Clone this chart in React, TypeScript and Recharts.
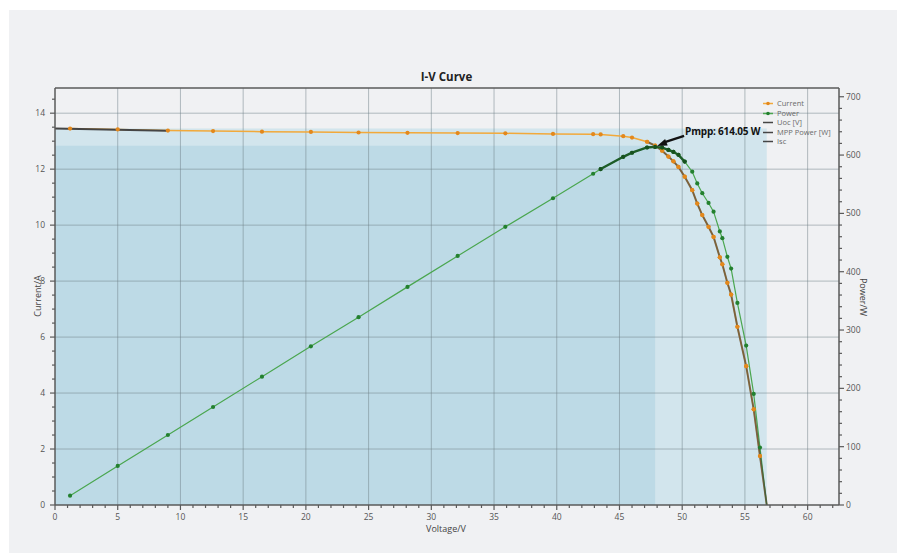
import React from 'react';
import {
  ComposedChart,
  Line,
  XAxis,
  YAxis,
  CartesianGrid,
  ReferenceArea,
  ReferenceLine,
  ReferenceDot,
} from 'recharts';

// measured points of the I-V sweep (voltage in V, current in A, power in W)
const voltage = [1.2, 5.0, 9.0, 12.6, 16.5, 20.4, 24.2, 28.1, 32.1, 35.9, 39.7, 42.9, 43.5, 45.3, 46.0, 47.2, 47.84, 48.4, 48.9, 49.3, 49.7, 50.2, 50.8, 51.2, 51.6, 52.1, 52.5, 53.0, 53.2, 53.6, 53.9, 54.4, 55.1, 55.7, 56.2, 56.74];
const current = [13.45, 13.42, 13.38, 13.36, 13.34, 13.33, 13.31, 13.3, 13.29, 13.28, 13.26, 13.25, 13.24, 13.18, 13.13, 12.98, 12.84, 12.66, 12.45, 12.28, 12.08, 11.73, 11.25, 10.77, 10.36, 9.94, 9.58, 8.85, 8.6, 7.94, 7.52, 6.37, 4.96, 3.42, 1.75, 0];
const power = [16, 67, 120, 168, 220, 272, 322, 374, 427, 477, 526, 568, 576, 597, 604, 613, 614.05, 612.7, 608.8, 605.4, 600.4, 588.8, 571.5, 551.4, 534.6, 517.9, 503, 469, 457.5, 425.6, 405.3, 346.5, 273.3, 190.5, 98.4, 0];

// short-circuit tangent near 0 V
const iscVoltage = [0, 8.9];
const iscCurrent = [13.45, 13.37];

// key values
const VOC = 56.74;
const ISC = 13.45;
const VMPP = 47.84;
const IMPP = 12.84;
const PMPP = 614.05;

const xMajor = [0, 5, 10, 15, 20, 25, 30, 35, 40, 45, 50, 55, 60];
const leftMajor = [0, 2, 4, 6, 8, 10, 12, 14];
const legendNames = ['Current', 'Power', 'Uoc [V]', 'MPP Power [W]', 'Isc'];

const xTicks = Array.from({ length: 63 }, (_, k) => k);
const leftTicks = Array.from({ length: 30 }, (_, k) => k * 0.5);
const rightTicks = Array.from({ length: 36 }, (_, k) => k * 20);

const FONT = '"Open Sans", "Noto Sans", sans-serif';
const AXIS = '#5a5a5a';
const ORANGE = '#f2a93b';
const ORANGE_DOT = '#e3881c';
const GREEN = '#4aa64f';
const GREEN_DOT = '#23802f';
const DARK = '#454545';

const rows = voltage.map((v, k) => ({ v, i: current[k], p: power[k] }));
const iscRows = iscVoltage.map((v, k) => ({ v, i: iscCurrent[k] }));
const uocRows = rows.filter((r) => r.v >= 47.2);
const mppRows = rows.filter((r) => r.v >= 43.5 && r.v <= 50.2);

const makeDot = (fill: string) => (props: any) => {
  const { cx, cy, index, payload } = props;
  if (cx == null || cy == null || payload.v === VOC) return <g key={`d-${index}`} />;
  return <circle key={`d-${index}`} cx={cx} cy={cy} r={2.1} fill={fill} />;
};

const XTick = ({ x, y, payload }: any) => {
  const major = payload.value % 5 === 0;
  return (
    <g>
      <line x1={x} x2={x} y1={y} y2={y + (major ? 5 : 3)} stroke={AXIS} strokeWidth={1.2} />
      {major && (
        <text x={x} y={y + 15} textAnchor="middle" fontSize={8.5} fill="#555" fontFamily={FONT}>
          {payload.value}
        </text>
      )}
    </g>
  );
};

const LeftTick = ({ x, y, payload }: any) => {
  const major = payload.value % 2 === 0;
  return (
    <g>
      <line x1={x} x2={x - (major ? 5 : 3)} y1={y} y2={y} stroke={AXIS} strokeWidth={1.2} />
      {major && (
        <text x={x - 10} y={y + 3} textAnchor="end" fontSize={8.5} fill="#555" fontFamily={FONT}>
          {payload.value}
        </text>
      )}
    </g>
  );
};

const RightTick = ({ x, y, payload }: any) => {
  const major = payload.value % 100 === 0;
  return (
    <g>
      <line x1={x} x2={x + (major ? 5 : 3)} y1={y} y2={y} stroke={AXIS} strokeWidth={1.2} />
      {major && (
        <text x={x + 7} y={y + 3} textAnchor="start" fontSize={8.5} fill="#555" fontFamily={FONT}>
          {payload.value}
        </text>
      )}
    </g>
  );
};

// arrow + label pointing at the maximum power point
const MppMarker = (props: any) => {
  const { cx, cy } = props;
  return (
    <g>
      <line x1={cx + 9} y1={cy - 4.5} x2={cx + 29} y2={cy - 11} stroke="#111" strokeWidth={2.2} />
      <polygon points={`${cx + 2},${cy - 1} ${cx + 12.6},${cy - 1.3} ${cx + 10},${cy - 7.9}`} fill="#111" />
      <text x={cx + 30} y={cy - 11.5} fontSize={10} fontWeight="bold" fill="#111" fontFamily={FONT} letterSpacing={-0.2}>
        {`Pmpp: ${PMPP} W`}
      </text>
    </g>
  );
};

const LegendBox = () => {
  const colors = [ORANGE, GREEN, DARK, DARK, DARK];
  const dots = [ORANGE_DOT, GREEN_DOT, null, null, null];
  return (
    <div style={{ position: 'absolute', left: 762, top: 99, fontFamily: FONT, fontSize: 7.5, color: '#6a6a6a', lineHeight: '9.5px' }}>
      {legendNames.map((name, k) => (
        <div key={name} style={{ display: 'flex', alignItems: 'center', height: 9.5 }}>
          <svg width={12} height={9} style={{ marginRight: 3 }}>
            <line x1={1} x2={11} y1={4.5} y2={4.5} stroke={colors[k]} strokeWidth={1.5} />
            {dots[k] && <circle cx={6} cy={4.5} r={1.8} fill={dots[k] as string} />}
          </svg>
          <span>{name}</span>
        </div>
      ))}
    </div>
  );
};

export default function App() {
  return (
    <div style={{ position: 'fixed', left: 0, top: 0, width: 901, height: 555, background: '#fff', overflow: 'hidden' }}>
      <div style={{ position: 'absolute', left: 9, top: 10, width: 888, height: 543, background: '#f0f1f3' }} />
      <div style={{ position: 'absolute', left: 0, top: 0 }}>
        <ComposedChart width={901} height={555} margin={{ top: 88, right: 12, bottom: 20, left: 9 }}>
          <ReferenceArea x1={0} x2={VOC} y1={0} y2={ISC} fill="#c4dfea" fillOpacity={0.7} stroke="none" zIndex={-160} />
          <ReferenceArea x1={0} x2={VMPP} y1={0} y2={IMPP} fill="#a8d0e0" fillOpacity={0.5} stroke="none" zIndex={-150} />
          <CartesianGrid
            stroke="#6f7f88"
            strokeOpacity={0.5}
            verticalValues={xMajor.slice(1)}
            horizontalValues={leftMajor.slice(1)}
          />
          <XAxis
            type="number"
            dataKey="v"
            domain={[0, 62.5]}
            allowDataOverflow
            ticks={xTicks}
            interval={0}
            tickSize={0}
            tickMargin={0}
            tickLine={false}
            tick={(p: any) => <XTick {...p} />}
            axisLine={{ stroke: AXIS, strokeWidth: 1.5 }}
            height={30}
          />
          <YAxis
            type="number"
            domain={[0, 14.9]}
            allowDataOverflow
            ticks={leftTicks}
            interval={0}
            tickSize={0}
            tickMargin={0}
            tickLine={false}
            tick={(p: any) => <LeftTick {...p} />}
            axisLine={{ stroke: AXIS, strokeWidth: 1.5 }}
            width={46}
          />
          <YAxis
            yAxisId="right"
            orientation="right"
            type="number"
            domain={[0, 715]}
            allowDataOverflow
            ticks={rightTicks}
            interval={0}
            tickSize={0}
            tickMargin={0}
            tickLine={false}
            tick={(p: any) => <RightTick {...p} />}
            axisLine={{ stroke: AXIS, strokeWidth: 1.5 }}
            width={50}
          />
          <ReferenceLine y={14.9} stroke={AXIS} strokeWidth={1.5} />

          <Line data={rows} dataKey="i" type="linear" stroke={ORANGE} strokeWidth={1.5} dot={makeDot(ORANGE_DOT)} activeDot={false} isAnimationActive={false} />
          <Line data={rows} dataKey="p" yAxisId="right" type="linear" stroke={GREEN} strokeWidth={1.2} dot={makeDot(GREEN_DOT)} activeDot={false} isAnimationActive={false} />
          <Line data={uocRows} dataKey="i" type="linear" stroke="#3f3a36" strokeOpacity={0.65} strokeWidth={2} dot={makeDot(ORANGE_DOT)} activeDot={false} isAnimationActive={false} />
          <Line data={mppRows} dataKey="p" yAxisId="right" type="linear" stroke="#1d5c27" strokeWidth={2.4} dot={makeDot('#17501f')} activeDot={false} isAnimationActive={false} />
          <Line data={iscRows} dataKey="i" type="linear" stroke={DARK} strokeWidth={2} dot={false} activeDot={false} isAnimationActive={false} />

          <ReferenceDot x={VMPP} y={PMPP} yAxisId="right" r={0} shape={(p: any) => <MppMarker {...p} />} />
        </ComposedChart>
      </div>

      <div style={{ position: 'absolute', left: 0, width: 901, top: 69, textAlign: 'center', fontFamily: FONT, fontSize: 11.5, fontWeight: 'bold', color: '#222' }}>
        <span style={{ position: 'relative', left: -4 }}>I-V Curve</span>
      </div>
      <div style={{ position: 'absolute', left: 37, top: 296, transform: 'translate(-50%, -50%) rotate(-90deg)', fontFamily: FONT, fontSize: 9, color: '#444', whiteSpace: 'nowrap' }}>
        Current/A
      </div>
      <div style={{ position: 'absolute', left: 863, top: 297, transform: 'translate(-50%, -50%) rotate(90deg)', fontFamily: FONT, fontSize: 9, color: '#444', whiteSpace: 'nowrap' }}>
        Power/W
      </div>
      <div style={{ position: 'absolute', left: 446, top: 528, transform: 'translate(-50%, -50%)', fontFamily: FONT, fontSize: 9, color: '#444', whiteSpace: 'nowrap' }}>
        Voltage/V
      </div>
      <LegendBox />
    </div>
  );
}
